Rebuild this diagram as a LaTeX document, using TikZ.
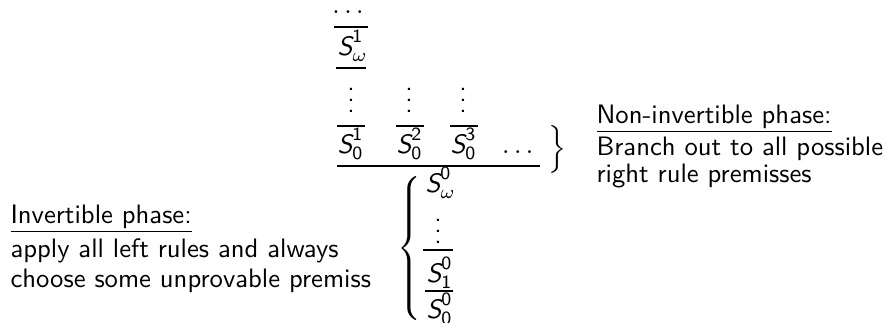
\documentclass[tikz,border=0pt]{standalone}
\usepackage{amsmath}
\renewcommand{\familydefault}{\sfdefault}
\newcommand{\sq}[2]{$\textit{S}^{\mathsf{#1}}_{#2}$}

\begin{document}
\begin{tikzpicture}[x=0.375pt,y=-0.375pt,inner sep=0pt]
\tikzset{
  seqnode/.style={anchor=base west},
  dotsnode/.style={anchor=base},
  phase/.style={anchor=base west},
  bar/.style={line width=0.4pt}
}
\useasboundingbox (0,0) rectangle (886,322);
% upper tree
\node[dotsnode] (dtop) at (348,13) {$\ldots$};
\draw[bar] (334,27) -- (368,27);
\node[seqnode] (s1w) at (337,55) {\sq{1}{\omega}};
\draw[bar] (336,68) -- (366,68);
\node[dotsnode] (v1) at (351,112) {$\vdots$};
\node[dotsnode] (v2) at (409,112) {$\vdots$};
\node[dotsnode] (v3) at (463,112) {$\vdots$};
\draw[bar] (337,126) -- (365,126);
\draw[bar] (396,126) -- (424,126);
\draw[bar] (450,126) -- (478,126);
\node[seqnode] (s10) at (337,153) {\sq{1}{\mathsf{0}}};
\node[seqnode] (s20) at (396,153) {\sq{2}{\mathsf{0}}};
\node[seqnode] (s30) at (450,153) {\sq{3}{\mathsf{0}}};
\node[dotsnode] (dots) at (520,153) {$\dots$};
\draw[bar] (337,166) -- (540,166);
% lower tree
\node[seqnode] (s0w) at (425,192) {\sq{0}{\omega}};
\node[dotsnode] (v0) at (438,243) {$\vdots$};
\draw[bar] (423,250) -- (453,250);
\node[seqnode] (s01) at (426,282) {\sq{0}{\mathsf{1}}};
\draw[bar] (425,291) -- (453,291);
\node[seqnode] (s00) at (426,318) {\sq{0}{\mathsf{0}}};
% braces
\node (rbrace) at (556,150) {$\left.\rule[-7pt]{0pt}{14pt}\right\}$};
\node (lbrace) at (411,252) {$\left\{\rule[-27pt]{0pt}{54pt}\right.$};
% phases
\node[phase] (inv) at (10,223) {\underline{Invertible phase:}};
\node[phase] (inv1) at (10,257) {apply all left rules and always};
\node[phase] (inv2) at (10,287) {choose some unprovable premiss};
\node[phase] (ninv) at (596,123) {\underline{Non-invertible phase:}};
\node[phase] (ninv1) at (596,155) {Branch out to all possible};
\node[phase] (ninv2) at (596,182) {right rule premisses};
\end{tikzpicture}
\end{document}
